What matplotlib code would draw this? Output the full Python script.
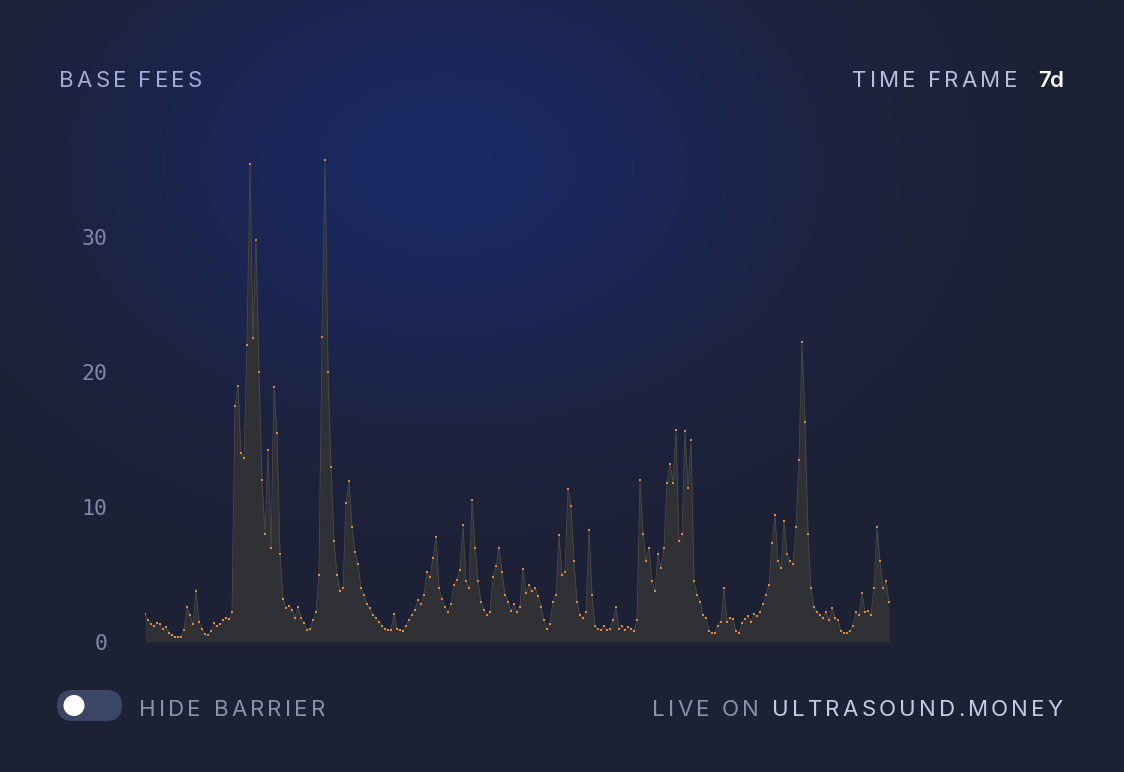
import numpy as np
import matplotlib
matplotlib.use("Agg")
import matplotlib.pyplot as plt
from matplotlib.patches import FancyBboxPatch, Circle

W, H = 1124, 772

base_fees = [
    2.1, 1.6, 1.3, 1.2, 1.4, 1.3, 1.0, 1.1, 0.7, 0.5, 0.4, 0.4, 0.4, 0.9,
    2.6, 2.0, 1.3, 3.8, 1.5, 1.0, 0.6, 0.5, 0.8, 1.4, 1.2, 1.3, 1.6, 1.8, 1.7, 2.2,
    17.5, 19.0, 14.0, 13.6, 22.0, 35.4, 22.5, 29.8, 20.0, 12.0, 8.0, 14.2, 7.0, 18.9, 15.5, 6.5, 3.2,
    2.5, 2.7, 2.4, 1.8, 2.6, 1.8, 1.4, 0.9, 1.0, 1.6, 2.2, 5.0,
    22.6, 35.7, 20.0, 13.0, 7.5, 5.0, 3.8, 4.0, 10.3, 11.9, 8.5, 6.7, 5.8, 4.0, 3.5, 2.8,
    2.5, 2.0, 1.8, 1.5, 1.2, 1.0,
    0.9, 0.9, 2.1, 1.0, 0.9, 0.8, 1.2, 1.6, 2.0, 2.4, 3.1, 2.8, 3.5, 5.2, 4.8, 6.2, 7.8,
    4.0, 3.2, 2.6, 2.2, 2.8, 4.2, 4.6, 5.3, 8.7, 4.5, 4.0, 10.5, 7.0, 4.5, 3.0, 2.4, 2.0,
    2.2, 4.8, 5.6, 7.0, 5.2, 3.5, 3.0, 2.3, 2.8, 2.2, 2.6, 5.4, 3.6, 4.2, 3.8, 4.0, 3.4,
    2.6, 1.6, 1.0, 1.3, 3.0, 3.5, 7.9, 5.0, 5.2, 11.3, 10.1, 6.0, 3.0, 2.0, 1.8, 2.2, 8.3,
    3.5, 1.2, 1.0, 0.9, 1.2, 0.9, 1.0, 1.6, 2.6, 1.0, 1.2, 0.9, 1.1, 1.0, 0.8, 1.6,
    12.0, 8.0, 6.0, 7.0, 4.5, 3.8, 6.5, 5.5, 7.0, 11.8, 13.2, 11.8, 15.7, 7.5, 8.0, 15.6, 11.4,
    15.0, 4.5, 3.5, 3.0, 2.0, 1.8, 0.8, 0.7, 0.7, 1.2, 1.5, 4.0, 1.5, 1.8, 1.7, 0.8, 0.7,
    1.4, 1.7, 1.9, 1.5, 2.1, 1.9, 2.2, 2.8, 3.5, 4.2, 7.3, 9.4, 6.0, 5.5, 9.0, 6.5, 6.0,
    5.8, 8.5, 13.5, 22.2, 16.3, 8.0, 4.0, 2.6, 2.2, 2.0, 1.8, 2.2, 1.6, 2.5, 1.8, 1.6, 0.8,
    0.7, 0.7, 0.8, 1.2, 2.2, 2.0, 3.6, 2.2, 2.3, 2.0, 4.0, 8.5, 6.0, 4.0, 4.5, 3.0,
]
y_ticks = [0, 10, 20, 30]

BG = np.array([0x1e, 0x21, 0x34]) / 255
GLOW = np.array([0x1a, 0x29, 0x64]) / 255


def px(x, y):
    # pixel (top-left origin) -> figure fraction
    return x / W, 1 - y / H


def spaced(fig, s, x0, x1, y, size, color, weight="normal"):
    # draw text char by char so it fills x0..x1 (letter spacing)
    r = fig.canvas.get_renderer()

    def width(t):
        tt = fig.text(0, 0, t, fontsize=size, family="Inter", weight=weight)
        w = tt.get_window_extent(r).width
        tt.remove()
        return w

    base = width("XX")
    adv = [width("X" + c + "X") - base for c in s]
    gap = (x1 - x0 - sum(adv)) / max(len(s) - 1, 1)
    x = x0
    for c, a in zip(s, adv):
        fx, fy = px(x, y)
        fig.text(fx, fy, c, fontsize=size, family="Inter", weight=weight,
                 color=color, va="baseline", ha="left")
        x += a + gap


fig = plt.figure(figsize=(W / 100, H / 100), dpi=100)

# background with the blue glow
bg_ax = fig.add_axes([0, 0, 1, 1])
yy, xx = np.mgrid[0:H, 0:W]
d = np.sqrt(((xx - 445) / 430) ** 2 + ((yy - 165) / 300) ** 2)
t = np.clip(np.exp(-d ** 2 * 1.5), 0, 1)[..., None]
img = BG * (1 - t) + GLOW * t
bg_ax.imshow(img, extent=[0, W, H, 0], aspect="auto")
bg_ax.set_xlim(0, W)
bg_ax.set_ylim(H, 0)
bg_ax.axis("off")

# chart area
ymax = 38
left, bottom = px(145, 642)
right, _ = px(889, 0)
height = ymax * 13.5 / H
ax = fig.add_axes([left, bottom, right - left, height])
ax.patch.set_alpha(0)
xs = np.arange(len(base_fees))
ax.fill_between(xs, base_fees, 0, color="#2f3134", lw=0)
ax.plot(xs, base_fees, color="#4b4a46", lw=0.6)
ax.plot(xs, base_fees, ls="none", marker="s", ms=2.0, color="#e3893b", mew=0)
ax.set_xlim(0, len(base_fees) - 1)
ax.set_ylim(0, ymax)
ax.set_yticks(y_ticks)
ax.set_yticklabels([str(v) for v in y_ticks], family="DejaVu Sans Mono",
                   fontsize=15.5, color="#7e87ab")
ax.tick_params(axis="y", length=0, pad=27)
ax.set_xticks([])
for s in ax.spines.values():
    s.set_visible(False)

fig.canvas.draw()

# header / footer texts
spaced(fig, "BASE FEES", 59, 202, 87, 16, "#a3abd6")
spaced(fig, "TIME FRAME", 852, 1017, 87, 16, "#b9c0de")
spaced(fig, "7d", 1038, 1064, 87, 16, "#ffffff", weight="semibold")
spaced(fig, "HIDE BARRIER", 139, 325, 716, 16, "#8a90ae")
spaced(fig, "LIVE ON", 652, 759, 716, 16, "#8a90ae")
spaced(fig, "ULTRASOUND.MONEY", 772, 1063, 716, 16, "#c6cce8")

# toggle switch
bg_ax.add_patch(FancyBboxPatch((57, 690), 65, 31, boxstyle="round,pad=0,rounding_size=15.5",
                               fc="#3b4566", ec="none"))
bg_ax.add_patch(Circle((74, 705.5), 10.5, fc="white", ec="none"))

fig.savefig("out.png", dpi=100, facecolor=BG)
